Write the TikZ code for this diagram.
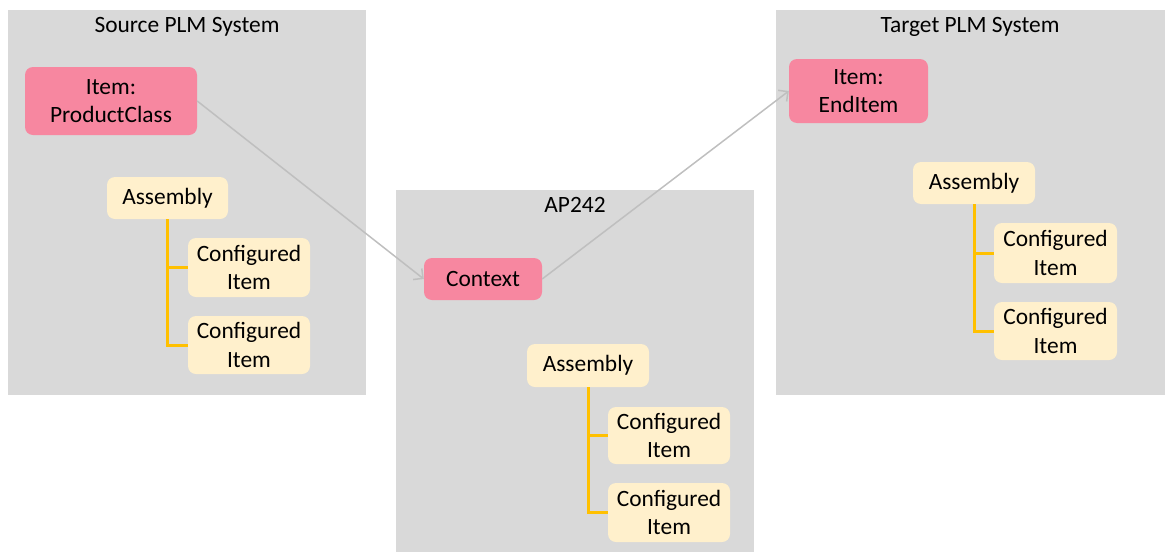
\documentclass[tikz,border=0pt]{standalone}
\usepackage{fontspec}
\setmainfont{Carlito}
\usetikzlibrary{arrows.meta}
\definecolor{panelgray}{HTML}{D9D9D9}
\definecolor{pinkfill}{RGB}{247,135,160}
\definecolor{creamfill}{HTML}{FFF0CC}
\definecolor{treeorange}{HTML}{FFC000}
\definecolor{linkgray}{HTML}{BFBFBF}
\tikzset{
  panel/.style={fill=panelgray, draw=none},
  paneltitle/.style={anchor=base, inner sep=0pt, font=\fontsize{23.4}{28.3}\selectfont},
  box/.style={rectangle, rounded corners=8pt, inner sep=0pt, align=center,
    font=\fontsize{23.4}{28.3}\selectfont},
  pinkbox/.style={box, fill=pinkfill},
  creambox/.style={box, fill=creamfill},
  tree/.style={draw=treeorange, line width=3pt},
  link/.style={draw=linkgray, line width=1.5pt, -{Straight Barb[length=7pt,width=14pt,line width=1.5pt]}},
}
\begin{document}
\begin{tikzpicture}[x=1pt,y=-1pt]
\useasboundingbox (0,0) rectangle (1165,552);
% panels
\fill[panel] (8,10) rectangle (366,395);
\fill[panel] (396,190) rectangle (754,552);
\fill[panel] (776,10) rectangle (1165,395);
\node[paneltitle] (tsrc) at (187,32) {Source PLM System};
\node[paneltitle] (tap) at (575,212) {AP242};
\node[paneltitle] (ttgt) at (970,32) {Target PLM System};
% source
\node[pinkbox, minimum width=172pt, minimum height=68pt] (pc) at (111,101) {Item:\\ProductClass};
\node[creambox, minimum width=121pt, minimum height=42pt] (sa) at (167.5,198) {Assembly};
\node[creambox, minimum width=122pt, minimum height=59pt] (sc1) at (249,267.5) {Configured\\Item};
\node[creambox, minimum width=122pt, minimum height=58pt] (sc2) at (249,345) {Configured\\Item};
% AP242
\node[pinkbox, minimum width=118pt, minimum height=42pt] (ctx) at (483,279) {Context};
\node[creambox, minimum width=122pt, minimum height=43pt] (aa) at (588,365.5) {Assembly};
\node[creambox, minimum width=122pt, minimum height=57pt] (ac1) at (669,435.5) {Configured\\Item};
\node[creambox, minimum width=122pt, minimum height=59pt] (ac2) at (669,512.5) {Configured\\Item};
% target
\node[pinkbox, minimum width=139pt, minimum height=64pt] (ei) at (858.5,91) {Item:\\EndItem};
\node[creambox, minimum width=122pt, minimum height=42pt] (ta) at (974,183) {Assembly};
\node[creambox, minimum width=123pt, minimum height=60pt] (tc1) at (1055.5,253) {Configured\\Item};
\node[creambox, minimum width=123pt, minimum height=58pt] (tc2) at (1055.5,331) {Configured\\Item};
% trees
\draw[tree] (sa.south) |- (sc2.west);
\draw[tree] (sa.south) |- (sc1.west);
\draw[tree] (aa.south) |- (ac2.west);
\draw[tree] (aa.south) |- (ac1.west);
\draw[tree] (ta.south) |- (tc2.west);
\draw[tree] (ta.south) |- (tc1.west);
% links
\draw[link] (pc.east) -- (ctx.west);
\draw[link] (ctx.east) -- (ei.west);
\end{tikzpicture}
\end{document}
